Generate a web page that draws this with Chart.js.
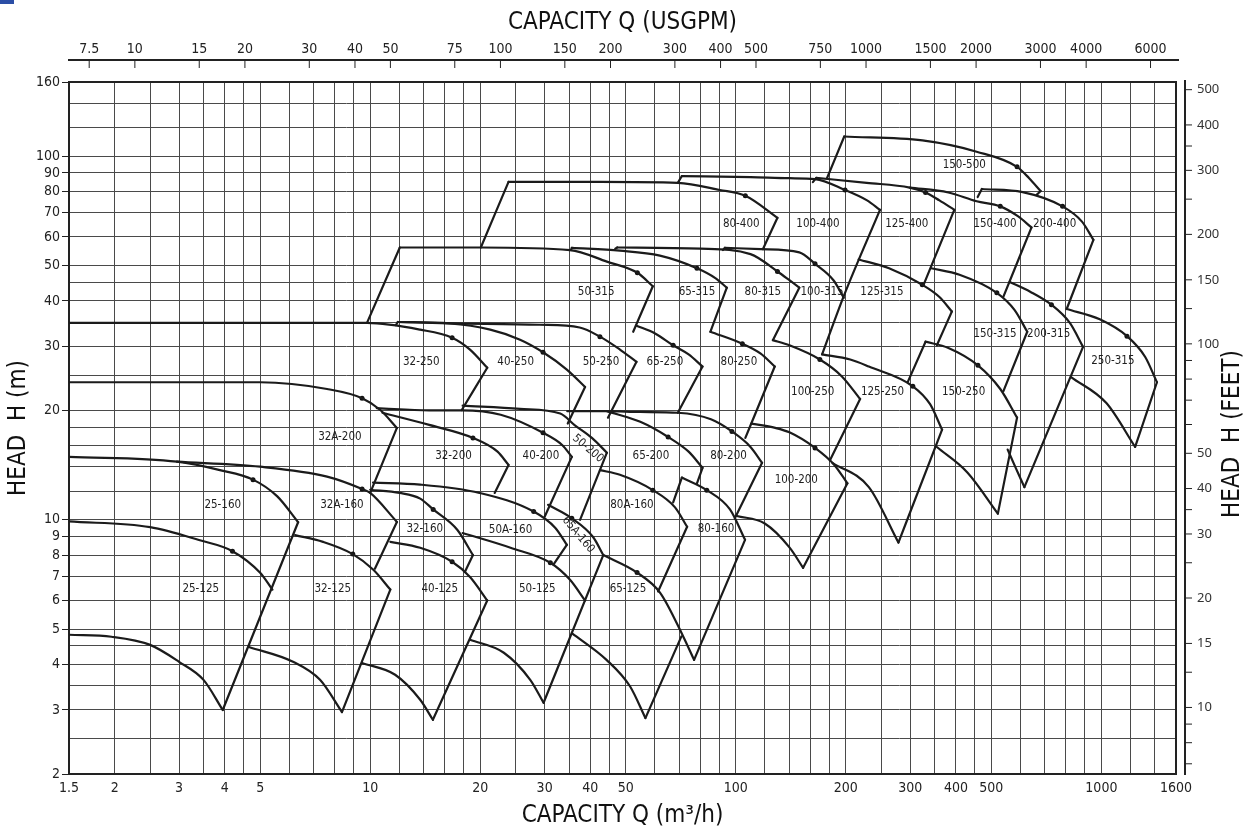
<!DOCTYPE html>
<html>
<head>
<meta charset="utf-8">
<script src="https://cdn.jsdelivr.net/npm/chart.js@4.4.1/dist/chart.umd.min.js"></script>
<style>
  html, body { margin: 0; padding: 0; background: #fff; }
  #wrap { position: relative; width: 1249px; height: 830px; }
  #mark { position: absolute; left: 0; top: 0; width: 14px; height: 4px; background: #2b4ea6; }
</style>
</head>
<body>
<div id="wrap">
  <canvas id="pumpChart" width="1249" height="830"></canvas>
  <div id="mark"></div>
</div>
<script>
// grid / tick values
const gridQ = [1.5,2,2.5,3,3.5,4,4.5,5,6,7,8,9,10,12,14,16,18,20,25,30,35,40,45,50,60,70,80,90,100,
  120,140,160,180,200,250,300,350,400,450,500,600,700,800,900,1000,1200,1400,1600]
const labelsQ = [1.5,2,3,4,5,10,20,30,40,50,100,200,300,400,500,1000,1600]
const gridH = [2,2.5,3,3.5,4,4.5,5,6,7,8,9,10,12,14,16,18,20,25,30,35,40,45,50,60,70,80,90,100,120,140,160]
const labelsH = [2,3,4,5,6,7,8,9,10,20,30,40,50,60,70,80,90,100,160]
const usgpmTicks = [7.5,10,15,20,30,40,50,75,100,150,200,300,400,500,750,1000,1500,2000,3000,4000,6000]
const feetTicks = [10,15,20,30,40,50,100,150,200,300,400,500]
const feetMinor = [7,8,9,12.5,25,35,60,70,80,90,125,250,350]

const M3H_TO_USGPM = 4.40287
const M_TO_FT = 3.28084

// curves, [Q m3/h, H m]
const row125Lines = [
  [[1.5,9.9],[2.5,9.55],[3.4,8.8],[4.2,8.2],[5,7.15],[5.4,6.43]],
  [[1.5,4.83],[1.96,4.77],[2.5,4.53],[3.0,4.07],[3.5,3.63],[3.95,3.0]],
  [[3.95,3.0],[6.35,9.85]],
  [[6.23,9.08],[7.43,8.7],[8.96,8.05],[10.2,7.29],[11.35,6.43]],
  [[11.35,6.43],[8.37,2.96]],
  [[4.66,4.47],[6.15,4.07],[7.29,3.63],[8.37,2.96]],
  [[11.35,8.7],[13.7,8.38],[16.75,7.67],[18.75,6.96],[20.9,6.0]],
  [[20.9,6.0],[14.84,2.82]],
  [[9.5,4.04],[11.7,3.75],[13.7,3.2],[14.84,2.82]],
  [[17.9,9.2],[24.2,8.38],[31.1,7.62],[35.2,6.84],[38.7,6.0]],
  [[29.8,3.14],[43.4,8.0]],
  [[18.75,4.68],[23.2,4.31],[27.4,3.63],[29.8,3.14]],
  [[43.4,8.0],[53.7,7.16],[62.1,6.3],[71.8,4.78],[76.9,4.12]],
  [[71,4.78],[56.6,2.85]],
  [[35.6,4.88],[44.3,4.12],[51.4,3.48],[56.6,2.85]]
]
const row160Lines = [
  [[1.5,14.9],[2.96,14.45],[3.88,13.7],[4.78,12.9],[5.57,11.6],[6.35,9.85]],
  [[2.96,14.45],[5.0,14.0],[7.62,13.15],[9.5,12.16],[10,11.86],[11.83,9.87]],
  [[11.83,9.87],[10.3,7.34]],
  [[10,12.1],[12.04,11.86],[13.7,11.44],[14.87,10.68],[17.3,9.39],[19.1,8.0]],
  [[19.1,8.0],[18.15,7.19]],
  [[10.18,12.66],[13.7,12.5],[19.9,11.86],[28,10.54],[32.1,9.5],[34.5,8.54]],
  [[34.5,8.54],[31.7,7.53]],
  [[30.65,11.0],[35.6,10.1],[40.7,8.97],[43.4,8.0]],
  [[42.5,13.7],[48.2,13.3],[59.3,12.07],[68.2,10.82],[73.6,9.57]],
  [[73.6,9.57],[61.3,6.35]],
  [[67.4,11.17],[71.2,13.07]],
  [[71.2,13.07],[83.3,12.07],[96.4,10.68],[106,8.81]],
  [[106,8.81],[76.9,4.12]]
]
const row200Lines = [
  [[1.5,23.9],[5.0,23.9],[7.62,22.9],[9.5,21.6],[10.66,20.05],[11.83,17.9]],
  [[11.83,17.9],[10,11.86]],
  [[10.42,20.3],[14.5,20.0],[17.8,20.0],[22.75,19.45],[29.7,17.35],[33.5,16.06],[35.6,14.9]],
  [[35.6,14.9],[30,10.2]],
  [[10.8,19.7],[14.5,18.24],[19.1,16.8],[22.3,15.4],[23.9,14.16]],
  [[23.9,14.16],[21.9,11.86]],
  [[17.9,20.6],[25.7,20.2],[33.1,19.6],[36.3,18.2],[40.4,16.8],[44.4,15.3]],
  [[44.4,15.3],[37.5,10]],
  [[34.6,19.9],[44.4,19.9],[54.8,19.8],[69.4,19.7],[85.5,18.9],[97.6,17.5],[109.7,15.87],[118,14.35]],
  [[118,14.35],[99.4,10.1]],
  [[44.4,19.9],[54.8,18.6],[65.3,16.9],[74.3,15.4],[81.1,13.9]],
  [[81.1,13.9],[78.3,12.6]],
  [[110.3,18.4],[128.2,17.9],[140.2,17.4],[164.7,15.77],[186,14.16],[202,12.6]],
  [[202,12.6],[152.8,7.38]],
  [[100.7,10.25],[120,9.77],[140.2,8.4],[152.8,7.38]]
]
const row250Lines = [
  [[1.5,34.8],[9.8,34.8],[13.7,33.35],[16.75,31.7],[18.75,29.4],[20.9,26.2]],
  [[20.9,26.2],[17.8,20.05]],
  [[11.75,34.3],[11.9,35.0]],
  [[11.9,35.0],[16.5,34.7],[21.3,33.35],[25.7,31.3],[29.7,28.9],[34.5,25.9],[38.7,23.2]],
  [[38.7,23.2],[34.7,18.4]],
  [[11.9,35.0],[16.5,34.7],[29,34.4],[37.4,33.8],[42.5,31.9],[48.2,29.4],[53.5,27.2]],
  [[53.5,27.2],[44.7,19.1]],
  [[53.5,34.2],[60,32.6],[67.4,30.2],[74.3,28.5],[81.1,26.4]],
  [[81.1,26.4],[69.4,19.7]],
  [[85.2,32.9],[104.2,30.5],[117,28.65],[127.8,26.4]],
  [[127.8,26.4],[106.2,16.8]],
  [[126.3,31.2],[140.2,30.2],[169.8,27.6],[195.1,24.8],[218.8,21.5]],
  [[218.8,21.5],[180.8,14.55]],
  [[172.2,28.5],[205.6,27.6],[231.2,26.4],[305,23.3],[340,20.8],[366.7,17.7]],
  [[366.7,17.7],[278.5,8.66]],
  [[183.8,14.35],[231.2,12.3],[278.5,8.66]],
  [[295.7,24.0],[330.4,30.9]],
  [[330.4,30.9],[381.6,29.7],[459.5,26.6],[529,22.9],[588,19.1]],
  [[588,19.1],[521,10.4]],
  [[354.8,15.86],[430,13.5],[521,10.4]]
]
const row315Lines = [
  [[9.8,34.8],[12.05,56.1]],
  [[12.05,56.1],[20.07,56.1],[35.2,55.2],[44.4,51.3],[53.8,47.8],[59.3,43.9]],
  [[59.3,43.9],[52.4,32.9]],
  [[35.4,55.2],[35.6,56.0]],
  [[35.6,56.0],[48.2,55],[62,53.3],[78.3,49.2],[87.7,46.3],[94.5,43.5]],
  [[94.5,43.5],[85.2,32.9]],
  [[46.8,55.7],[47.4,56.1]],
  [[47.4,56.1],[80,55.7],[109.7,53.8],[130,48.2],[140.2,45.6],[149.2,43.5]],
  [[149.2,43.5],[126.3,31.2]],
  [[92.2,55.2],[93.4,56]],
  [[93.4,56],[117,55.5],[149.2,54.4],[164.7,50.6],[185,45.6],[197.5,40.8]],
  [[248,71.2],[197.5,41.3],[172.2,28.5]],
  [[216.8,52.0],[262.6,49.2],[323.7,44.3],[360.6,41],[390,37.4]],
  [[390,37.4],[354.8,30.2]],
  [[342,49.2],[409.2,47.2],[517.6,42.1],[578.5,37.8],[627,32.9]],
  [[627,32.9],[539.6,22.6]],
  [[560.9,45.1],[638.7,42.4],[730,39.05],[820,34.8],[890.9,29.9]],
  [[890.9,29.9],[615.8,12.3]],
  [[554.2,15.6],[583,13.9],[615.8,12.3]],
  [[803.7,38.0],[990,35.6],[1175,32],[1318,28.05],[1419,23.9]],
  [[1419,23.9],[1237,15.87]],
  [[826,24.7],[1032,20.95],[1237,15.87]]
]
const row400Lines = [
  [[20.07,56.1],[23.9,85]],
  [[23.9,85],[42.5,85],[69.4,84.5],[90.4,80.75],[106.2,77.8],[130,67.7]],
  [[130,67.7],[118.6,55.5]],
  [[69.4,84.5],[71.2,88.2]],
  [[71.2,88.2],[109.7,87.6],[140.2,87],[164.7,86.5],[199,80.75],[228.6,75.6],[248,71.2]],
  [[162.5,84.9],[166,87.2]],
  [[166,87.2],[228,84.5],[299,82],[330.4,79.5],[360.6,75.6],[396,71.2]],
  [[396,71.2],[326.3,44.3]],
  [[299,82],[381.6,79.5],[455.8,75.2],[529,72.8],[591,68.4],[644,63.7]],
  [[644,63.7],[539.6,41.1]],
  [[458.8,77.2],[471,81.25]],
  [[471,81.25],[609,79.7],[783,72.8],[885,66.1],[951,58.9]],
  [[951,58.9],[803.7,38]],
  [[177.6,87],[198,113.3]],
  [[198,113.3],[324,110.5],[455.8,102.9],[588,93.5],[634.4,87],[682,80.2]],
  [[682,80.2],[666,78.4]]
]

// best efficiency points
const bepPoints = [
  [4.2,8.2],[8.96,8.05],[16.75,7.67],[31.1,7.62],[53.7,7.16],
  [4.78,12.9],[9.5,12.16],[14.87,10.68],[28,10.54],[35.6,10.1],[59.3,12.07],[83.3,12.07],
  [9.5,21.6],[19.1,16.8],[29.7,17.35],[65.3,16.9],[97.6,17.5],[164.7,15.77],
  [16.75,31.7],[29.7,28.9],[42.5,31.9],[67.4,30.2],[104.2,30.5],[169.8,27.6],[305,23.3],[459.5,26.6],
  [53.8,47.8],[78.3,49.2],[130,48.2],[164.7,50.6],[323.7,44.3],[517.6,42.1],[730,39.05],[1175,32],
  [106.2,77.8],[199,80.75],[330.4,79.5],[529,72.8],[783,72.8],[588,93.5]
]

// pump labels
const pumpNames = ['25-125','32-125','40-125','50-125','65-125',
  '25-160','32A-160','32-160','50A-160','80A-160','80-160','65A-160',
  '32A-200','32-200','40-200','50-200','65-200','80-200','100-200',
  '32-250','40-250','50-250','65-250','80-250','100-250','125-250','150-250',
  '50-315','65-315','80-315','100-315','125-315','150-315','200-315','250-315',
  '80-400','100-400','125-400','150-400','200-400','150-500']
const pumpQ = [3.44,7.9,15.5,28.65,50.7,
  3.95,8.37,14.1,24.2,52,88.3,37.1,
  8.26,16.9,29.3,39.4,58.6,95.5,146.4,
  13.8,25.0,42.8,64,102,162.3,252,420,
  41.5,78.3,118.6,172.2,251,511.7,717.5,1075,
  103.5,167.8,293.6,511.7,745,421.6]
const pumpH = [6.45,6.45,6.45,6.45,6.45,
  10.95,10.95,9.45,9.4,10.95,9.45,9.1,
  16.9,14.95,14.95,15.7,14.95,14.95,12.9,
  27.2,27.2,27.2,27.2,27.2,22.5,22.5,22.5,
  42.4,42.4,42.4,42.4,42.4,32.5,32.5,27.4,
  64.9,64.9,64.9,64.9,64.9,94.7]
const pumpAngle = {'50-200': 40, '65A-160': 50}

const tickFont = "'Liberation Sans Narrow', 'DejaVu Sans Condensed', sans-serif"
const gridColor = '#4a4a4a'
const lineColor = '#1b1b1b'

const allLines = [].concat(row125Lines, row160Lines, row200Lines, row250Lines, row315Lines, row400Lines)
const datasets = allLines.map(pts => ({
  data: pts.map(p => ({x: p[0], y: p[1]})),
  showLine: true,
  borderColor: lineColor,
  borderWidth: 2.2,
  pointRadius: 0,
  cubicInterpolationMode: 'monotone',
  borderCapStyle: 'round',
  borderJoinStyle: 'round'
}))
datasets.push({
  data: bepPoints.map(p => ({x: p[0], y: p[1]})),
  showLine: false,
  pointRadius: 2.5,
  pointBackgroundColor: '#111',
  pointBorderWidth: 0
})

const extraAxes = {
  id: 'extraAxes',
  afterDraw(chart) {
    const c = chart.ctx
    const area = chart.chartArea
    const top = chart.scales.x2
    const right = chart.scales.y2
    c.save()
    c.strokeStyle = '#222'
    // top USGPM axis line
    const ty = area.top - 22
    c.lineWidth = 2
    c.beginPath(); c.moveTo(area.left - 1, ty); c.lineTo(area.right + 3, ty); c.stroke()
    c.lineWidth = 1
    usgpmTicks.forEach(v => {
      const px = top.getPixelForValue(v)
      c.beginPath(); c.moveTo(px, ty); c.lineTo(px, ty + 8); c.stroke()
    })
    // right feet axis line
    const rx = area.right + 9
    c.lineWidth = 2
    c.beginPath(); c.moveTo(rx, area.top - 2); c.lineTo(rx, area.bottom + 1); c.stroke()
    c.lineWidth = 1
    feetTicks.concat(feetMinor).forEach(v => {
      const py = right.getPixelForValue(v)
      c.beginPath(); c.moveTo(rx, py); c.lineTo(rx + 7, py); c.stroke()
    })
    // pump size labels
    c.fillStyle = '#1e1e1e'
    c.font = "11.5px 'DejaVu Sans Condensed', 'DejaVu Sans', sans-serif"
    c.textAlign = 'center'
    c.textBaseline = 'middle'
    const sx = chart.scales.x, sy = chart.scales.y
    for (let i = 0; i < pumpNames.length; i++) {
      const px = sx.getPixelForValue(pumpQ[i])
      const py = sy.getPixelForValue(pumpH[i])
      const a = pumpAngle[pumpNames[i]] || 0
      c.save()
      c.translate(px, py)
      c.rotate(a * Math.PI / 180)
      c.fillText(pumpNames[i], 0, 0)
      c.restore()
    }
    // right title
    c.save()
    c.font = "24px " + tickFont
    c.fillStyle = '#111'
    c.translate(1233, (area.top + area.bottom) / 2 + 6)
    c.rotate(-Math.PI / 2)
    c.fillText('HEAD  H (FEET)', 0, 0)
    c.restore()
    c.restore()
  }
}

const ctx = document.getElementById('pumpChart').getContext('2d')
const chart = new Chart(ctx, {
  type: 'scatter',
  data: { datasets: datasets },
  plugins: [extraAxes],
  options: {
    responsive: false,
    animation: false,
    events: [],
    layout: { padding: 0 },
    plugins: { legend: { display: false }, tooltip: { enabled: false }, title: { display: false } },
    scales: {
      x: {
        type: 'logarithmic', position: 'bottom', min: 1.5, max: 1600,
        afterBuildTicks: s => { s.ticks = gridQ.map(v => ({value: v})) },
        afterFit: s => { s.height = 56 },
        ticks: {
          autoSkip: false, maxRotation: 0, padding: 6, color: '#222',
          font: { family: tickFont, size: 14 },
          callback: v => labelsQ.includes(v) ? String(v) : ''
        },
        grid: { color: gridColor, lineWidth: 1, drawTicks: false },
        border: { display: true, color: '#222', width: 2 },
        title: { display: true, text: 'CAPACITY Q (m³/h)', color: '#111',
          font: { family: tickFont, size: 24 }, padding: { top: 0, bottom: 0 } }
      },
      x2: {
        axis: 'x', type: 'logarithmic', position: 'top',
        min: 1.5 * M3H_TO_USGPM, max: 1600 * M3H_TO_USGPM,
        afterBuildTicks: s => { s.ticks = usgpmTicks.map(v => ({value: v})) },
        afterFit: s => { s.height = 82 },
        ticks: {
          autoSkip: false, maxRotation: 0, padding: 24, color: '#222',
          font: { family: tickFont, size: 14 },
          callback: v => String(v)
        },
        grid: { drawOnChartArea: false, drawTicks: false },
        border: { display: true, color: '#222', width: 2 },
        title: { display: true, text: 'CAPACITY Q (USGPM)', color: '#111',
          font: { family: tickFont, size: 24 }, padding: { top: 8, bottom: 0 } }
      },
      y: {
        type: 'logarithmic', position: 'left', min: 2, max: 160,
        afterBuildTicks: s => { s.ticks = gridH.map(v => ({value: v})) },
        afterFit: s => { s.width = 69 },
        ticks: {
          autoSkip: false, padding: 2, color: '#222',
          font: { family: tickFont, size: 14 },
          callback: v => labelsH.includes(v) ? String(v) : ''
        },
        grid: {
          color: gridColor, lineWidth: 1, tickLength: 7,
          tickColor: c => (c.tick && labelsH.includes(c.tick.value)) ? '#222' : 'rgba(0,0,0,0)'
        },
        border: { display: true, color: '#222', width: 2 },
        title: { display: true, text: 'HEAD  H (m)', color: '#111',
          font: { family: tickFont, size: 24 }, padding: { top: 4, bottom: 0 } }
      },
      y2: {
        axis: 'y', type: 'logarithmic', position: 'right',
        min: 2 * M_TO_FT, max: 160 * M_TO_FT,
        afterBuildTicks: s => { s.ticks = feetTicks.map(v => ({value: v})) },
        afterFit: s => { s.width = 73 },
        ticks: {
          autoSkip: false, padding: 21, color: '#333',
          font: { family: "'Noto Sans', 'DejaVu Sans', sans-serif", size: 13 },
          callback: v => String(v)
        },
        grid: { drawOnChartArea: false, drawTicks: false },
        border: { display: true, color: '#222', width: 2 }
      }
    }
  }
})
</script>
</body>
</html>
